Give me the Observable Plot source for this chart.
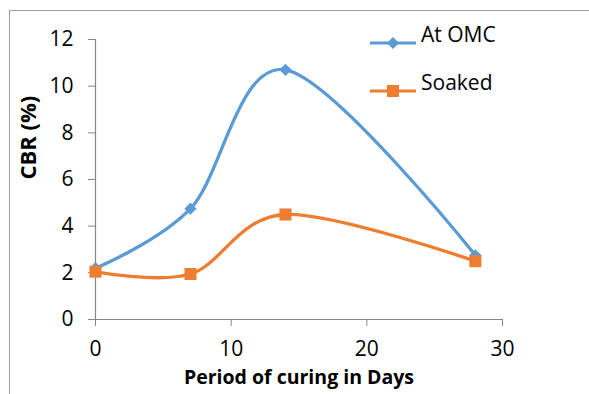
<!DOCTYPE html>
<html>
<head>
<meta charset="utf-8">
<script src="https://cdn.jsdelivr.net/npm/d3@7"></script>
<script src="https://cdn.jsdelivr.net/npm/@observablehq/plot@0.6"></script>
<style>
  html, body { margin: 0; padding: 0; background: #fff; }
  #wrap { position: relative; width: 589px; height: 394px; overflow: hidden; background: #fff; }
  #frame { position: absolute; left: 9px; top: 10px; width: 640px; height: 450px;
           border-left: 1.5px solid #a0a0a0; border-top: 1.5px solid #a0a0a0; }
  #chart { position: absolute; left: 0; top: 0; }
  .leg { position: absolute; left: 368px; font-family: 'Open Sans', sans-serif; font-size: 21px; color: #000; }
  .leg span { position: absolute; left: 53px; top: -15px; white-space: nowrap; }
</style>
</head>
<body>
<div id="wrap">
  <div id="frame"></div>
  <div id="chart"></div>
  <div id="legend"></div>
</div>
<script>
const days = [0, 7, 14, 28];
const omc = [2.2, 4.75, 10.7, 2.75];
const soaked = [2.05, 1.95, 4.5, 2.5];
const seriesNames = ["At OMC", "Soaked"];
const colors = ["#5B9BD5", "#ED7D31"];
const xTicks = [0, 10, 20, 30];
const yTicks = [0, 2, 4, 6, 8, 10, 12];

const rows = [];
days.forEach((d, i) => rows.push({day: d, cbr: omc[i], s: seriesNames[0]}));
days.forEach((d, i) => rows.push({day: d, cbr: soaked[i], s: seriesNames[1]}));
const omcRows = rows.filter(r => r.s === seriesNames[0]);
const soakRows = rows.filter(r => r.s === seriesNames[1]);

const gray = "#868686";
const chart = Plot.plot({
  width: 589, height: 394,
  marginLeft: 95, marginRight: 87, marginTop: 39, marginBottom: 75,
  x: {domain: [0, 30]},
  y: {domain: [0, 12]},
  style: {fontFamily: "'Open Sans', sans-serif", fontSize: "21px", background: "transparent", color: "#000"},
  marks: [
    Plot.axisY({ticks: yTicks, tickSize: 7, tickPadding: 15, stroke: gray, fill: "#000", fontSize: 21, label: null}),
    Plot.axisX({ticks: xTicks, tickSize: 7, tickPadding: 15, stroke: gray, fill: "#000", fontSize: 21, label: null}),
    Plot.ruleX([0], {stroke: gray, strokeWidth: 1.2}),
    Plot.ruleY([0], {stroke: gray, strokeWidth: 1.2}),
    Plot.line(omcRows, {x: "day", y: "cbr", stroke: colors[0], strokeWidth: 3.3, curve: "catmull-rom", tension: 0}),
    Plot.line(soakRows, {x: "day", y: "cbr", stroke: colors[1], strokeWidth: 3.3, curve: "catmull-rom", tension: 0}),
    Plot.dot(omcRows, {x: "day", y: "cbr", fill: colors[0], symbol: "diamond2", r: 5.5}),
    Plot.dot(soakRows, {x: "day", y: "cbr", fill: colors[1], symbol: "square", r: 6.8}),
    Plot.text(["CBR (%)"], {frameAnchor: "left", rotate: -90, dx: -67, fontWeight: "bold", fontSize: 22, fill: "#000"}),
    Plot.text(["Period of curing in Days"], {frameAnchor: "bottom", dy: 64, fontWeight: "bold", fontSize: 19.5, fill: "#000"})
  ]
});
document.getElementById("chart").appendChild(chart);

// legend
const legend = document.getElementById("legend");
const legY = [42.7, 90.7];
seriesNames.forEach((name, i) => {
  const div = document.createElement("div");
  div.className = "leg";
  div.style.top = (legY[i] - 8) + "px";
  const marker = i === 0
    ? `<path d="M25,-6 L31,0 L25,6 L19,0 Z" fill="${colors[0]}" transform="translate(0,8)"/>`
    : `<rect x="19" y="2" width="12" height="12" fill="${colors[1]}"/>`;
  div.innerHTML = `<svg width="50" height="16" style="position:absolute;left:0;top:0"><line x1="2" x2="48" y1="8" y2="8" stroke="${colors[i]}" stroke-width="3"/>${marker}</svg><span>${name}</span>`;
  legend.appendChild(div);
});
</script>
</body>
</html>
